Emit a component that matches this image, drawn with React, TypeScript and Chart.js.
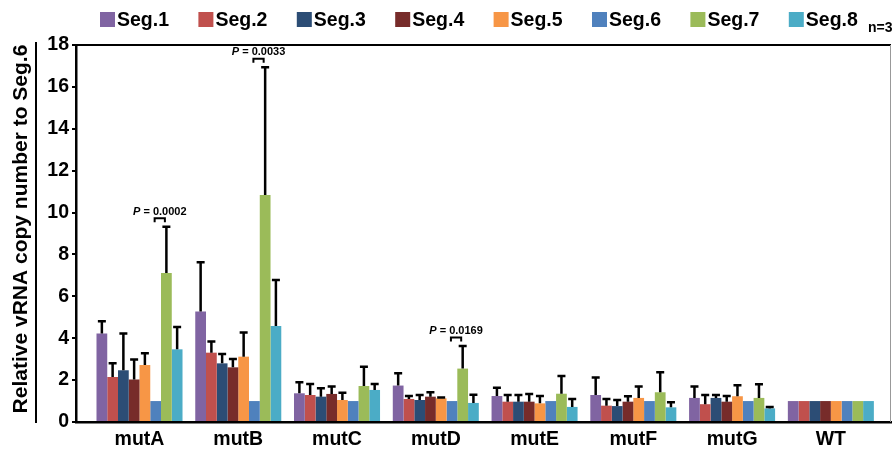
import React, { useEffect, useRef } from 'react';
import { Chart, registerables } from 'chart.js';

Chart.register(...registerables);

const categories = ['mutA', 'mutB', 'mutC', 'mutD', 'mutE', 'mutF', 'mutG', 'WT'];
const segLabels = ['Seg.1', 'Seg.2', 'Seg.3', 'Seg.4', 'Seg.5', 'Seg.6', 'Seg.7', 'Seg.8'];
const segColors = ['#8064A2', '#C0504D', '#2C4D75', '#772C2A', '#F79646', '#4F81BD', '#9BBB59', '#4BACC6'];

const seg1 = [4.23, 5.27, 1.37, 1.74, 1.24, 1.29, 1.15, 1];
const seg2 = [2.15, 3.31, 1.29, 1.1, 0.97, 0.78, 0.85, 1];
const seg3 = [2.47, 2.8, 1.21, 1.05, 0.97, 0.76, 1.15, 1];
const seg4 = [2.03, 2.61, 1.34, 1.21, 0.97, 0.97, 0.97, 1];
const seg5 = [2.72, 3.12, 1.05, 1.13, 0.89, 1.15, 1.23, 1];
const seg6 = [1, 1, 1, 1, 1, 1, 1, 1];
const seg7 = [7.11, 10.84, 1.72, 2.55, 1.35, 1.42, 1.15, 1];
const seg8 = [3.47, 4.58, 1.53, 0.91, 0.72, 0.7, 0.65, 1];

const err1 = [0.58, 2.36, 0.53, 0.59, 0.4, 0.84, 0.54, 0];
const err2 = [0.65, 0.53, 0.52, 0.14, 0.32, 0.32, 0.44, 0];
const err3 = [1.76, 0.45, 0.4, 0.24, 0.32, 0.29, 0.14, 0];
const err4 = [0.96, 0.4, 0.35, 0.21, 0.37, 0.26, 0.27, 0];
const err5 = [0.56, 1.15, 0.35, 0.04, 0.35, 0.54, 0.52, 0];
const err6 = [0, 0, 0, 0, 0, 0, 0, 0];
const err7 = [2.21, 6.1, 0.92, 1.08, 0.85, 0.95, 0.65, 0];
const err8 = [1.07, 2.2, 0.28, 0.39, 0.38, 0.24, 0.07, 0];

const yTicks = [0, 2, 4, 6, 8, 10, 12, 14, 16, 18];
const pGroups = [0, 1, 3];
const pTexts = ['0.0002', '0.0033', '0.0169'];

const yTitle = 'Relative vRNA copy number to Seg.6';
const nLabel = 'n=3';

const FONT = '"Liberation Sans", Arial, sans-serif';

export default function App() {
  const ref = useRef<HTMLCanvasElement>(null);

  useEffect(() => {
    const values = [seg1, seg2, seg3, seg4, seg5, seg6, seg7, seg8];
    const errs = [err1, err2, err3, err4, err5, err6, err7, err8];

    const decor = {
      id: 'decor',
      afterDatasetsDraw(chart: any) {
        const ctx = chart.ctx;
        const ys = chart.scales.y;
        const ca = chart.chartArea;
        ctx.save();
        // error bars
        ctx.strokeStyle = '#000';
        ctx.lineWidth = 2.5;
        values.forEach((vals, k) => {
          const meta = chart.getDatasetMeta(k);
          vals.forEach((v, i) => {
            const e = errs[k][i];
            if (!e) return;
            const el = meta.data[i];
            const top = ys.getPixelForValue(v + e);
            ctx.beginPath();
            ctx.moveTo(el.x, el.y);
            ctx.lineTo(el.x, top);
            ctx.moveTo(el.x - 4, top);
            ctx.lineTo(el.x + 4, top);
            ctx.stroke();
          });
        });
        // P brackets
        pGroups.forEach((g, idx) => {
          const a = chart.getDatasetMeta(5).data[g];
          const b = chart.getDatasetMeta(6).data[g];
          const top = ys.getPixelForValue(seg7[g] + err7[g]);
          const by = top - 8.5;
          const x1 = a.x - 1;
          const x2 = b.x - 1.5;
          ctx.lineWidth = 2;
          ctx.beginPath();
          ctx.moveTo(x1, by + 4);
          ctx.lineTo(x1, by);
          ctx.lineTo(x2, by);
          ctx.lineTo(x2, by + 4);
          ctx.stroke();
          const cx = (x1 + x2) / 2;
          ctx.fillStyle = '#000';
          ctx.textBaseline = 'alphabetic';
          ctx.font = `italic bold 11px ${FONT}`;
          const pw = ctx.measureText('P').width;
          ctx.font = `bold 11px ${FONT}`;
          const rest = ' = ' + pTexts[idx];
          const rw = ctx.measureText(rest).width;
          const sx = cx - (pw + rw) / 2;
          ctx.font = `italic bold 11px ${FONT}`;
          ctx.textAlign = 'left';
          ctx.fillText('P', sx, by - 3.5);
          ctx.font = `bold 11px ${FONT}`;
          ctx.fillText(rest, sx + pw, by - 3.5);
        });
        // frame lines
        ctx.strokeStyle = '#000';
        ctx.lineWidth = 2;
        ctx.beginPath();
        ctx.moveTo(ca.left - 1, ca.top);
        ctx.lineTo(ca.right, ca.top);
        ctx.stroke();
        ctx.strokeStyle = '#999';
        ctx.lineWidth = 1;
        ctx.beginPath();
        ctx.moveTo(ca.right - 0.5, ca.top);
        ctx.lineTo(ca.right - 0.5, ca.bottom);
        ctx.stroke();
        // separator next to title
        ctx.strokeStyle = '#000';
        ctx.lineWidth = 2;
        ctx.beginPath();
        ctx.moveTo(36, ca.top - 3);
        ctx.lineTo(36, ca.bottom + 1);
        ctx.stroke();
        // y title
        ctx.save();
        ctx.translate(21, 229);
        ctx.rotate(-Math.PI / 2);
        ctx.font = `bold 21px ${FONT}`;
        ctx.textAlign = 'center';
        ctx.textBaseline = 'middle';
        ctx.fillStyle = '#000';
        ctx.fillText(yTitle, 0, 0);
        ctx.restore();
        // legend
        ctx.font = `bold 19.5px ${FONT}`;
        ctx.textBaseline = 'middle';
        ctx.textAlign = 'left';
        segLabels.forEach((lab, k) => {
          const x = 100 + k * 98.4;
          ctx.fillStyle = segColors[k];
          ctx.fillRect(x, 12, 15, 15);
          ctx.fillStyle = '#000';
          ctx.fillText(lab, x + 17, 20.5);
        });
        // n=3
        ctx.font = `bold 14px ${FONT}`;
        ctx.textBaseline = 'alphabetic';
        ctx.fillText(nLabel, 868, 32);
        ctx.restore();
      },
    };

    const tickFont = { family: FONT, size: 19.5, weight: 'bold' as const };

    const chart = new Chart(ref.current!, {
      type: 'bar',
      data: {
        datasets: values.map((vals, k) => ({
          label: segLabels[k],
          data: vals.map((y, i) => ({ x: i, y })),
          backgroundColor: segColors[k],
          borderWidth: 0,
          categoryPercentage: 0.871,
          barPercentage: 1,
        })),
      },
      options: {
        responsive: false,
        animation: false,
        devicePixelRatio: 1,
        layout: { padding: { top: 45, right: 2, left: 0, bottom: 0 } },
        plugins: { legend: { display: false }, tooltip: { enabled: false } },
        scales: {
          x: {
            type: 'linear',
            offset: false,
            min: -0.643,
            max: 7.609,
            grid: { display: false, drawTicks: false, offset: false },
            border: { display: true, color: '#000', width: 2.5 },
            ticks: {
              stepSize: 1,
              includeBounds: false,
              autoSkip: false,
              maxRotation: 0,
              padding: 6,
              color: '#000',
              font: tickFont,
              callback: (v: any) => categories[v] ?? '',
            },
            afterBuildTicks: (s: any) => {
              s.ticks = categories.map((_, i) => ({ value: i }));
            },
            afterFit: (s: any) => {
              s.height = 32;
            },
          },
          y: {
            min: 0,
            max: 18,
            grid: { drawOnChartArea: false, drawTicks: true, tickLength: 4, color: '#000', lineWidth: 2 },
            border: { display: true, color: '#000', width: 2.5 },
            ticks: { padding: 3, color: '#000', font: tickFont },
            afterBuildTicks: (s: any) => {
              s.ticks = yTicks.map((v) => ({ value: v }));
            },
            afterFit: (s: any) => {
              s.width = 76;
            },
          },
        },
      } as any,
      plugins: [decor],
    });
    return () => chart.destroy();
  }, []);

  return (
    <div style={{ position: 'fixed', left: 0, top: 0, width: 893, height: 454, background: '#fff' }}>
      <canvas ref={ref} width={893} height={454} style={{ display: 'block' }} />
    </div>
  );
}
